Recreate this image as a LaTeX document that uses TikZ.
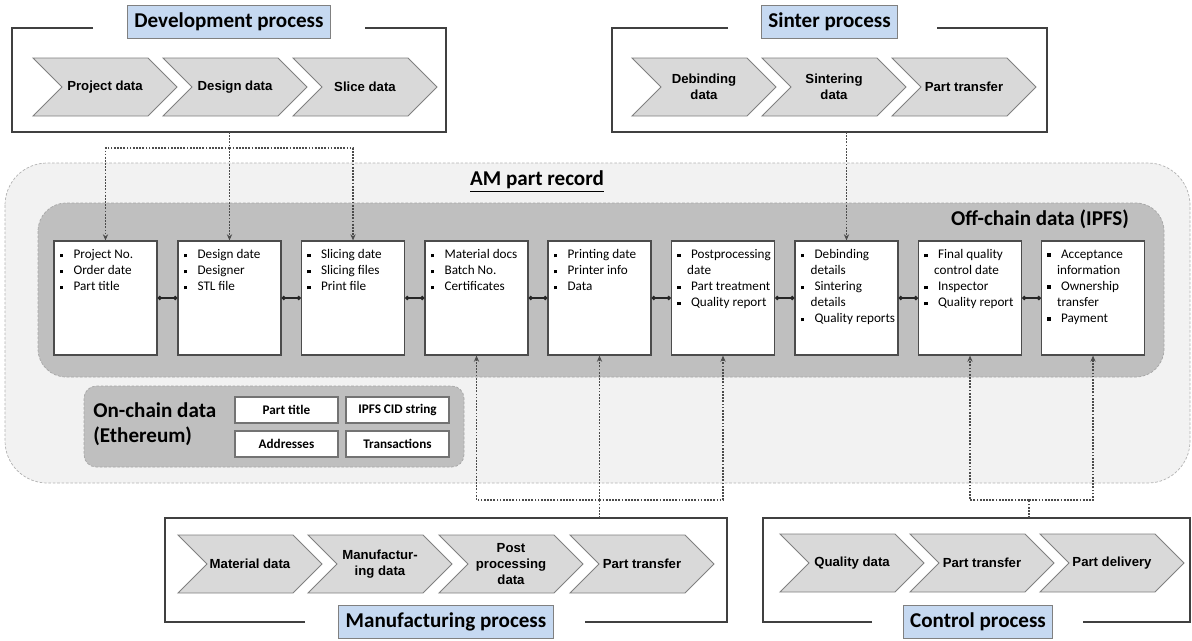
\documentclass[tikz,border=0pt]{standalone}
\usepackage{fontspec}
\setmainfont{Carlito}
\newfontfamily\arialfont{Liberation Sans}
\usetikzlibrary{arrows.meta}

\definecolor{chevfill}{HTML}{D9D9D9}
\definecolor{chevline}{HTML}{808080}
\definecolor{titlefill}{HTML}{C6D9F1}
\definecolor{recfill}{HTML}{F2F2F2}
\definecolor{offfill}{HTML}{BFBFBF}
\definecolor{framecol}{HTML}{404040}

\newcommand{\bul}{\makebox[1.05em][l]{\rule[0.25ex]{0.28em}{0.28em}}}
\newcommand{\hang}{\hspace*{0.75em}}

% chevron: name, left x, middle y, text
\newcommand{\chevron}[4]{%
  \draw[chev] (#2,#3-29) -- ++(115,0) -- ++(29,29) -- ++(-29,29) -- ++(-115,0) -- ++(29,-29) -- cycle;
  \node[chevtext] (#1) at (#2+72,#3) {#4};}

\tikzset{
  chev/.style={fill=chevfill, draw=chevline, line width=0.5pt},
  chevtext/.style={align=center, inner sep=0pt, font=\arialfont\bfseries\fontsize{7.5}{9}\selectfont},
  titlebox/.style={draw=black!50, fill=titlefill, inner xsep=4pt, minimum height=0.66cm,
    font=\bfseries\fontsize{12}{14}\selectfont},
  frame/.style={draw=framecol, line width=0.7pt},
  rec/.style={draw=black!70, fill=white, line width=0.7pt, minimum width=2.06cm, minimum height=2.28cm},
  items/.style={anchor=north west, align=left, inner sep=0pt, xshift=0.12cm, yshift=-0.18cm,
    font=\fontsize{7.5}{9.1}\selectfont},
  tie/.style={draw=black!85, line width=0.9pt, {Circle[length=2.4pt]}-{Circle[length=2.4pt]}},
  link/.style={draw=black!70, line width=0.6pt, dash pattern=on 1pt off 0.8pt,
    -{Stealth[length=3.5pt,width=3pt]}},
  chainbox/.style={draw=black!55, fill=white, line width=0.8pt, minimum width=2.06cm,
    minimum height=0.52cm, font=\bfseries\fontsize{7.5}{9}\selectfont},
}

\begin{document}
\begin{tikzpicture}[x=0.02cm, y=-0.02cm]
  \useasboundingbox (0,0) rectangle (1192,640);

  % record areas
  \draw[fill=recfill, draw=black!30, dash pattern=on 1.5pt off 1pt, rounded corners=24pt] (5,163) rectangle (1190,483);
  \draw[fill=offfill, draw=black!35, dash pattern=on 1.5pt off 1pt, rounded corners=16pt] (38,203) rectangle (1164,377);
  \draw[fill=offfill, draw=black!35, dash pattern=on 1.5pt off 1pt, rounded corners=7pt] (84,386) rectangle (464,467);
  \node[font=\bfseries\fontsize{12}{14}\selectfont] (amrec) at (537,182) {\underline{AM part record}};
  \node[font=\bfseries\fontsize{12}{14}\selectfont] (offchain) at (1040,219) {Off-chain data (IPFS)};
  \node[anchor=west, align=left, inner sep=0pt, font=\bfseries\fontsize{12}{14.5}\selectfont] (onchain) at (93,424) {On-chain data\\(Ethereum)};

  \node[chainbox] (ptitle) at (286.5,410) {Part title};
  \node[chainbox] (cid) at (397.5,410) {IPFS CID string};
  \node[chainbox] (addr) at (286.5,444) {Addresses};
  \node[chainbox] (trans) at (397.5,444) {Transactions};

  % development process
  \draw[frame] (93,28) -- (12,28) -- (12,132) -- (446,132) -- (446,28) -- (365,28);
  \node[titlebox] (devtitle) at (229,21.5) {Development process};
  \chevron{project}{33}{87}{Project data}
  \chevron{design}{163}{87}{Design data}
  \chevron{slice}{293}{87}{Slice data}

  % sinter process
  \draw[frame] (728,28) -- (612,28) -- (612,132) -- (1047,132) -- (1047,28) -- (937,28);
  \node[titlebox] (sintitle) at (829.5,21.5) {Sinter process};
  \chevron{debind}{632}{87}{Debinding\\data}
  \chevron{sinter}{762}{87}{Sintering\\data}
  \chevron{sintransfer}{892}{87}{Part transfer}

  % manufacturing process
  \draw[frame] (305,622) -- (165,622) -- (165,518) -- (727,518) -- (727,622) -- (585,622);
  \node[titlebox] (mantitle) at (446,622) {Manufacturing process};
  \chevron{material}{178}{564}{Material data}
  \chevron{manuf}{308}{564}{Manufactur-\\ing data}
  \chevron{post}{439}{564}{Post\\processing\\data}
  \chevron{mantransfer}{570}{564}{Part transfer}

  % control process
  \draw[frame] (872,622) -- (763,622) -- (763,518) -- (1190,518) -- (1190,622) -- (1083,622);
  \node[titlebox] (ctltitle) at (978,622) {Control process};
  \chevron{quality}{780}{563}{Quality data}
  \chevron{ctltransfer}{910}{563}{Part transfer}
  \chevron{delivery}{1040}{563}{Part delivery}

  % off-chain records
  \node[rec] (r1) at (105.5,298) {};
  \node[rec] (r2) at (229.5,298) {};
  \node[rec] (r3) at (353,298) {};
  \node[rec] (r4) at (476.5,298) {};
  \node[rec] (r5) at (599.5,298) {};
  \node[rec] (r6) at (723,298) {};
  \node[rec] (r7) at (846.5,298) {};
  \node[rec] (r8) at (970,298) {};
  \node[rec] (r9) at (1093,298) {};
  \node[items] (r1t) at (r1.north west) {\bul Project No.\\\bul Order date\\\bul Part title};
  \node[items] (r2t) at (r2.north west) {\bul Design date\\\bul Designer\\\bul STL file};
  \node[items] (r3t) at (r3.north west) {\bul Slicing date\\\bul Slicing files\\\bul Print file};
  \node[items] (r4t) at (r4.north west) {\bul Material docs\\\bul Batch No.\\\bul Certificates};
  \node[items] (r5t) at (r5.north west) {\bul Printing date\\\bul Printer info\\\bul Data};
  \node[items] (r6t) at (r6.north west) {\bul Postprocessing\\\hang date\\\bul Part treatment\\\bul Quality report};
  \node[items] (r7t) at (r7.north west) {\bul Debinding\\\hang details\\\bul Sintering\\\hang details\\\bul Quality reports};
  \node[items] (r8t) at (r8.north west) {\bul Final quality\\\hang control date\\\bul Inspector\\\bul Quality report};
  \node[items] (r9t) at (r9.north west) {\bul Acceptance\\\hang information\\\bul Ownership\\\hang transfer\\\bul Payment};

  \draw[tie] (r1) -- (r2);
  \draw[tie] (r2) -- (r3);
  \draw[tie] (r3) -- (r4);
  \draw[tie] (r4) -- (r5);
  \draw[tie] (r5) -- (r6);
  \draw[tie] (r6) -- (r7);
  \draw[tie] (r7) -- (r8);
  \draw[tie] (r8) -- (r9);

  % data links
  \coordinate (devout) at (229.5,132);
  \coordinate (devsplit) at (229.5,148);
  \draw[link, -] (devout) -- (devsplit);
  \draw[link] (devsplit) -| (r1.north);
  \draw[link] (devsplit) -- (r2.north);
  \draw[link] (devsplit) -| (r3.north);

  \coordinate (sinout) at (846.5,132);
  \draw[link] (sinout) -- (r7.north);

  \coordinate (manin) at (599.5,518);
  \coordinate (mansplit) at (599.5,500);
  \draw[link, -] (manin) -- (mansplit);
  \draw[link] (mansplit) -| (r4.south);
  \draw[link] (mansplit) -- (r5.south);
  \draw[link] (mansplit) -| (r6.south);

  \coordinate (ctlin) at (1029,518);
  \coordinate (ctlsplit) at (1029,500);
  \draw[link, -] (ctlin) -- (ctlsplit);
  \draw[link] (ctlsplit) -| (r8.south);
  \draw[link] (ctlsplit) -| (r9.south);
\end{tikzpicture}
\end{document}
